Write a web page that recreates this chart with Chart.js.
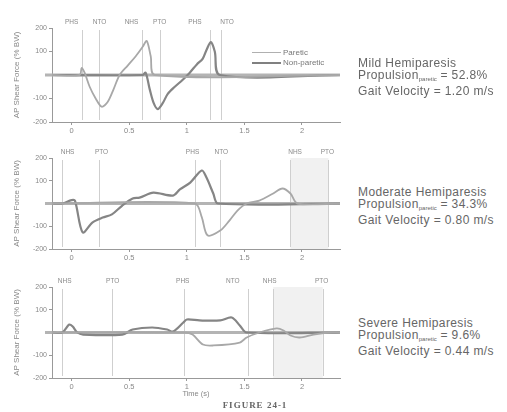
<!DOCTYPE html>
<html>
<head>
<meta charset="utf-8">
<script src="https://cdn.jsdelivr.net/npm/chart.js@4.4.1/dist/chart.umd.min.js"></script>
<style>
  body { margin: 0; background: #fff; width: 507px; height: 412px; position: relative; overflow: hidden;
         font-family: "Liberation Sans", Arial, sans-serif; color: #666; }
  canvas { position: absolute; left: 0; }
  .note { position: absolute; left: 358px; font-size: 12px; line-height: 12px; letter-spacing: 0.4px; white-space: nowrap; color: #666; }
  .note sub { font-size: 6px; vertical-align: -2px; letter-spacing: 0; }
  .leg { position: absolute; left: 252px; font-size: 8px; line-height: 10px; color: #777; white-space: nowrap; }
  .leg span { display: inline-block; width: 29px; vertical-align: middle; margin-right: 2px; }
  #fig { position: absolute; left: 0; width: 510px; top: 400px; text-align: center; font-family: "Liberation Serif", serif;
         font-weight: bold; font-size: 9px; letter-spacing: 1px; color: #666; }
</style>
</head>
<body>
<canvas id="mild" width="345" height="140" style="top:0px"></canvas>
<canvas id="moderate" width="345" height="137" style="top:130px"></canvas>
<canvas id="severe" width="345" height="143" style="top:259px"></canvas>

<div class="leg" style="top:48px"><span style="border-top:1.5px solid #b0b0b0"></span>Paretic</div>
<div class="leg" style="top:58px"><span style="border-top:2px solid #808080"></span>Non-paretic</div>

<div class="note" style="top:57px">Mild Hemiparesis<br>Propulsion<sub>paretic</sub> = 52.8%<br>Gait Velocity = 1.20 m/s</div>
<div class="note" style="top:186px">Moderate Hemiparesis<br>Propulsion<sub>paretic</sub> = 34.3%<br>Gait Velocity = 0.80 m/s</div>
<div class="note" style="top:317px">Severe Hemiparesis<br>Propulsion<sub>paretic</sub> = 9.6%<br>Gait Velocity = 0.44 m/s</div>
<div id="fig">FIGURE 24-1</div>

<script>
// axis ticks
const xTicks = [0, 0.5, 1, 1.5, 2];
const yTicks = [-200, -100, 0, 100, 200];

// mild hemiparesis
const mildTime = [-0.17, 0.07, 0.087, 0.113, 0.157, 0.209, 0.261, 0.313, 0.365, 0.417, 0.487, 0.557, 0.617, 0.652, 0.687, 0.722, 2.33];
const mildParetic = [0, 0, 30, 10, -50, -100, -135, -115, -60, 0, 40, 80, 120, 145, 80, 0, 0];
const mildNonTime = [-0.17, 0.617, 0.643, 0.678, 0.713, 0.748, 0.791, 0.835, 0.896, 0.965, 1.026, 1.087, 1.139, 1.174, 1.209, 1.243, 1.287, 2.33];
const mildNonParetic = [0, 0, 10, -60, -120, -145, -120, -80, -50, -20, 10, 45, 70, 110, 140, 100, 0, 0];
const mildEvents = ['PHS', 'NTO', 'NHS', 'PTO', 'PHS', 'NTO'];
const mildEventTimes = [0.09, 0.24, 0.61, 0.77, 1.20, 1.30];
const mildLabelTimes = [0, 0.243, 0.52, 0.765, 1.07, 1.35];
const mildShade = null;

// moderate hemiparesis
const modTime = [-0.17, 1.07, 1.13, 1.18, 1.29, 1.37, 1.44, 1.52, 1.63, 1.75, 1.83, 1.90, 1.96, 2.33];
const modParetic = [0, 0, -60, -140, -119, -75, -31, 0, 13, 44, 66, 44, 0, 0];
const modNonTime = [-0.17, -0.08, 0, 0.03, 0.096, 0.18, 0.27, 0.35, 0.44, 0.53, 0.59, 0.71, 0.88, 0.94, 1.03, 1.13, 1.17, 1.23, 1.27, 2.33];
const modNonParetic = [0, 0, 15, 12, -127, -84, -62, -48, -9, 22, 26, 48, 35, 62, 92, 145, 115, 44, 0, 0];
const modEvents = ['NHS', 'PTO', 'PHS', 'NTO', 'NHS', 'PTO'];
const modEventTimes = [-0.087, 0.24, 1.07, 1.29, 1.90, 2.23];
const modLabelTimes = [-0.035, 0.26, 1.05, 1.30, 1.94, 2.22];
const modShade = [1.90, 2.23];

// severe hemiparesis
const sevTime = [-0.17, 0.98, 1.05, 1.14, 1.23, 1.46, 1.52, 1.63, 1.78, 1.84, 1.90, 1.98, 2.10, 2.24, 2.33];
const sevParetic = [0, 0, -9, -53, -57, -44, -22, 0, 18, 9, -13, -22, -9, 0, 0];
const sevNonTime = [-0.17, -0.08, -0.02, 0.01, 0.05, 0.10, 0.44, 0.53, 0.70, 0.83, 0.88, 0.97, 1.00, 1.11, 1.29, 1.39, 1.46, 1.52, 2.33];
const sevNonParetic = [0, 0, 35, 26, 0, -9, -9, 13, 22, 13, 4, 44, 57, 53, 53, 66, 31, 0, 0];
const sevEvents = ['NHS', 'PTO', 'PHS', 'NTO', 'NHS', 'PTO'];
const sevEventTimes = [-0.08, 0.35, 0.98, 1.53, 1.75, 2.18];
const sevLabelTimes = [-0.06, 0.357, 0.965, 1.40, 1.72, 2.17];
const sevShade = [1.75, 2.18];

Chart.defaults.font.family = '"Liberation Sans", Arial, sans-serif';
Chart.defaults.color = '#888';

function pts(xs, ys) {
    return xs.map((x, i) => ({ x: x, y: ys[i] }));
}

const gaitPlugin = {
    id: 'gait',
    beforeDatasetsDraw(chart, args, opts) {
        const ctx = chart.ctx;
        const area = chart.chartArea;
        const xs = chart.scales.x, ys = chart.scales.y;
        ctx.save();
        if (opts.shade) {
            const a = xs.getPixelForValue(opts.shade[0]);
            const b = xs.getPixelForValue(opts.shade[1]);
            ctx.fillStyle = '#f1f1f1';
            ctx.fillRect(a, area.top, b - a, area.bottom - area.top);
        }
        ctx.strokeStyle = '#cfcfcf';
        ctx.lineWidth = 1;
        opts.times.forEach(t => {
            const px = Math.round(xs.getPixelForValue(t)) + 0.5;
            ctx.beginPath();
            ctx.moveTo(px, area.top + 2);
            ctx.lineTo(px, area.bottom - 2);
            ctx.stroke();
        });
        // thick zero line
        const y0 = ys.getPixelForValue(0);
        ctx.strokeStyle = '#b4b4b4';
        ctx.lineWidth = 3;
        ctx.beginPath();
        ctx.moveTo(area.left - 7, y0);
        ctx.lineTo(area.right, y0);
        ctx.stroke();
        ctx.restore();
    },
    afterDraw(chart, args, opts) {
        const ctx = chart.ctx;
        const xs = chart.scales.x;
        ctx.save();
        ctx.font = '6.5px "Liberation Sans", Arial, sans-serif';
        ctx.fillStyle = '#8a8a8a';
        ctx.textAlign = 'center';
        ctx.textBaseline = 'middle';
        opts.labels.forEach((lab, i) => {
            ctx.fillText(lab, xs.getPixelForValue(opts.labelTimes[i]), chart.chartArea.top - 6);
        });
        ctx.restore();
    }
};

function makeChart(id, pTime, pVals, nTime, nVals, labels, times, labelTimes, shade, showTitle) {
    return new Chart(document.getElementById(id), {
        type: 'line',
        data: {
            datasets: [
                { label: 'Paretic', data: pts(pTime, pVals), borderColor: '#a8a8a8', borderWidth: 1.8, pointRadius: 0, tension: 0.3 },
                { label: 'Non-paretic', data: pts(nTime, nVals), borderColor: '#858585', borderWidth: 2.2, pointRadius: 0, tension: 0.3 }
            ]
        },
        options: {
            responsive: false,
            animation: false,
            devicePixelRatio: 1,
            layout: { padding: { top: 28, right: 5, bottom: 4, left: 12 } },
            plugins: {
                legend: { display: false },
                tooltip: { enabled: false },
                gait: { labels: labels, times: times, labelTimes: labelTimes, shade: shade }
            },
            scales: {
                x: {
                    type: 'linear',
                    min: -0.17,
                    max: 2.33,
                    afterBuildTicks: s => { s.ticks = xTicks.map(v => ({ value: v })); },
                    afterFit: s => { s.height = showTitle ? 20 : 14; },
                    ticks: { font: { size: 7.5 }, color: '#888', padding: 1, maxRotation: 0,
                             callback: v => String(v) },
                    grid: { drawOnChartArea: false, tickLength: 3, color: '#999' },
                    border: { color: '#999', width: 1 },
                    title: { display: showTitle, text: 'Time (s)', font: { size: 7.5 }, color: '#888', padding: 0 }
                },
                y: {
                    min: -200,
                    max: 200,
                    afterBuildTicks: s => { s.ticks = yTicks.map(v => ({ value: v })); },
                    afterFit: s => { s.width = 40; },
                    ticks: { font: { size: 7 }, color: '#888', padding: 2,
                             callback: v => (v === 0 ? '' : String(v)) },
                    grid: { drawOnChartArea: false, tickLength: 3, color: '#999' },
                    border: { color: '#999', width: 1 },
                    title: { display: true, text: 'AP Shear Force (% BW)', font: { size: 8 }, color: '#888', padding: 0 }
                }
            }
        },
        plugins: [gaitPlugin]
    });
}

makeChart('mild', mildTime, mildParetic, mildNonTime, mildNonParetic, mildEvents, mildEventTimes, mildLabelTimes, mildShade, false);
makeChart('moderate', modTime, modParetic, modNonTime, modNonParetic, modEvents, modEventTimes, modLabelTimes, modShade, false);
makeChart('severe', sevTime, sevParetic, sevNonTime, sevNonParetic, sevEvents, sevEventTimes, sevLabelTimes, sevShade, true);
</script>
</body>
</html>
